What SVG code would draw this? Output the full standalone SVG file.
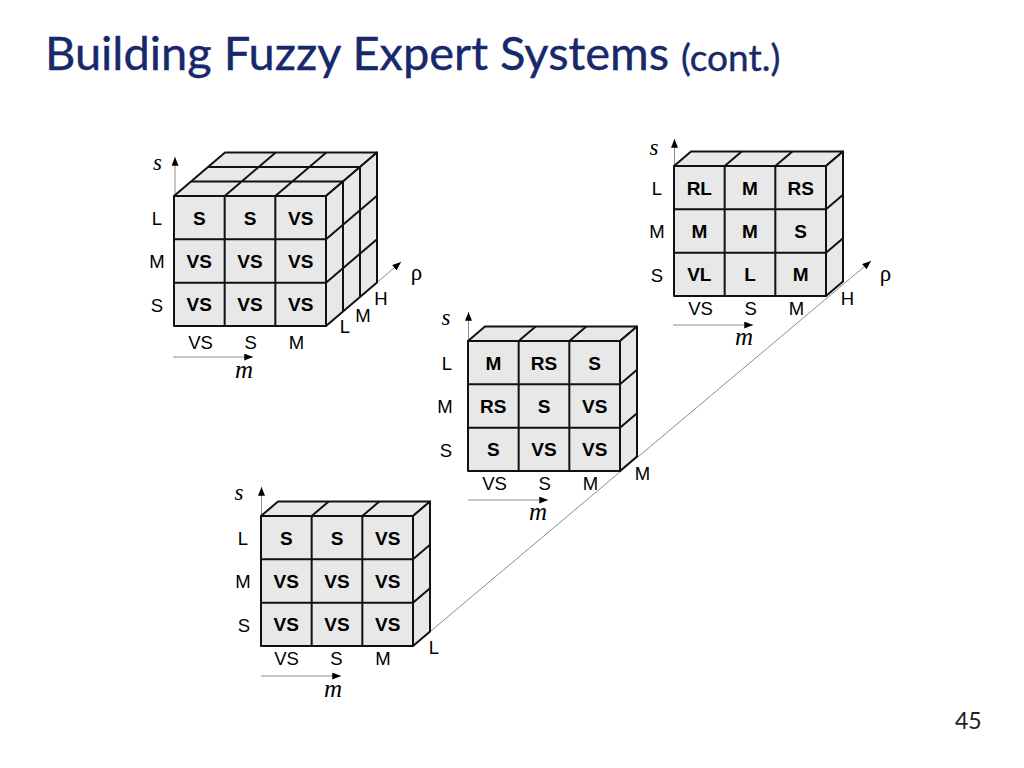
<svg xmlns="http://www.w3.org/2000/svg" width="1024" height="768" viewBox="0 0 1024 768">
<defs>
<marker id="arr" viewBox="0 0 10 8" markerWidth="9" markerHeight="7" markerUnits="userSpaceOnUse" refX="10" refY="4" orient="auto">
<path d="M0,0 L10,4 L0,8 z" fill="#000"/>
</marker>
</defs>
<style>
.face{fill:#e8e8e8;stroke:#111;stroke-width:2;stroke-linejoin:round}
.grid{stroke:#111;stroke-width:2;fill:none}
.cell{font-family:"Liberation Sans",Arial,sans-serif;font-weight:bold;font-size:19px;text-anchor:middle;fill:#000}
.lab{font-family:"Liberation Sans",Arial,sans-serif;font-size:18.5px;text-anchor:middle;fill:#000}
.ax{font-family:"Liberation Serif","Times New Roman",serif;font-style:italic;text-anchor:middle;fill:#000}
.rho{font-family:"Liberation Serif","Times New Roman",serif;font-size:23px;text-anchor:middle;fill:#000}
.axis{stroke:#8c8c8c;stroke-width:1;fill:none;marker-end:url(#arr)}
.title{font-family:Lato,"Open Sans",sans-serif;fill:#17296B;stroke:#17296B;stroke-width:0.4}
</style>
<rect width="1024" height="768" fill="#fff"/>
<text class="title" x="45" y="70" font-size="47">Building Fuzzy Expert Systems</text>
<text class="title" x="681" y="71" font-size="37">(cont.)</text>
<text x="955" y="729" font-family="Lato,'Open Sans',sans-serif" font-size="23" fill="#222">45</text>

<g id="connectors">
<line class="axis" x1="175" y1="196" x2="175" y2="157"/>
<line class="axis" x1="173" y1="357" x2="253" y2="357"/>
<line class="axis" x1="377" y1="282.5" x2="401" y2="262"/>
<line class="axis" x1="674.5" y1="166" x2="674.5" y2="139"/>
<line class="axis" x1="673" y1="325" x2="753" y2="325"/>
<line class="axis" x1="468.5" y1="341" x2="468.5" y2="312"/>
<line class="axis" x1="468" y1="500" x2="548" y2="500"/>
<line class="axis" x1="261.5" y1="516" x2="261.5" y2="487"/>
<line class="axis" x1="261" y1="676" x2="341" y2="676"/>
<line class="axis" x1="413" y1="646" x2="871" y2="261"/>
</g>

<g id="cube-rho-all">
<polygon class="face" points="174,196 326,196 377,152.5 225,152.5"/>
<path class="grid" d="M224.67,196 L275.67,152.5 M275.33,196 L326.33,152.5 M191,181.5 L343,181.5 M208,167 L360,167"/>
<polygon class="face" points="326,196 377,152.5 377,282.5 326,326"/>
<path class="grid" d="M326,239.33 L377,195.83 M326,282.67 L377,239.17 M343,181.5 L343,311.5 M360,167 L360,297"/>
<rect class="face" x="174" y="196" width="152" height="130"/>
<path class="grid" d="M224.67,196 V326 M275.33,196 V326 M174,239.33 H326 M174,282.67 H326"/>
<text class="cell" x="199.3" y="224.5">S</text><text class="cell" x="250" y="224.5">S</text><text class="cell" x="300.7" y="224.5">VS</text>
<text class="cell" x="199.3" y="267.8">VS</text><text class="cell" x="250" y="267.8">VS</text><text class="cell" x="300.7" y="267.8">VS</text>
<text class="cell" x="199.3" y="311.2">VS</text><text class="cell" x="250" y="311.2">VS</text><text class="cell" x="300.7" y="311.2">VS</text>
<text class="lab" x="157" y="225">L</text><text class="lab" x="157" y="268.3">M</text><text class="lab" x="157" y="311.7">S</text>
<text class="lab" x="200.5" y="349">VS</text><text class="lab" x="250.7" y="349">S</text><text class="lab" x="296.5" y="349">M</text>
<text class="ax" x="157.5" y="170" font-size="23">s</text>
<text class="ax" x="244" y="378" font-size="25">m</text>
<text class="rho" x="416.5" y="280">ρ</text>
<text class="lab" x="345" y="333">L</text><text class="lab" x="363" y="322">M</text><text class="lab" x="381" y="305">H</text>
</g>

<g id="cube-rho-H">
<polygon class="face" points="674,166 826,166 843,151.5 691,151.5"/>
<path class="grid" d="M724.67,166 L741.67,151.5 M775.33,166 L792.33,151.5"/>
<polygon class="face" points="826,166 843,151.5 843,281.5 826,296"/>
<path class="grid" d="M826,209.33 L843,194.83 M826,252.67 L843,238.17"/>
<rect class="face" x="674" y="166" width="152" height="130"/>
<path class="grid" d="M724.67,166 V296 M775.33,166 V296 M674,209.33 H826 M674,252.67 H826"/>
<text class="cell" x="699.3" y="194.5">RL</text><text class="cell" x="750" y="194.5">M</text><text class="cell" x="800.7" y="194.5">RS</text>
<text class="cell" x="699.3" y="237.8">M</text><text class="cell" x="750" y="237.8">M</text><text class="cell" x="800.7" y="237.8">S</text>
<text class="cell" x="699.3" y="281.2">VL</text><text class="cell" x="750" y="281.2">L</text><text class="cell" x="800.7" y="281.2">M</text>
<text class="lab" x="657" y="195">L</text><text class="lab" x="657" y="238.3">M</text><text class="lab" x="657" y="281.7">S</text>
<text class="lab" x="700.5" y="315">VS</text><text class="lab" x="750.7" y="315">S</text><text class="lab" x="796.5" y="315">M</text>
<text class="ax" x="654" y="155" font-size="23">s</text>
<text class="ax" x="744" y="345" font-size="25">m</text>
<text class="rho" x="885.5" y="281">ρ</text>
<text class="lab" x="847.5" y="305">H</text>
</g>

<g id="cube-rho-M">
<polygon class="face" points="468,341 620,341 637,326.5 485,326.5"/>
<path class="grid" d="M518.67,341 L535.67,326.5 M569.33,341 L586.33,326.5"/>
<polygon class="face" points="620,341 637,326.5 637,456.5 620,471"/>
<path class="grid" d="M620,384.33 L637,369.83 M620,427.67 L637,413.17"/>
<rect class="face" x="468" y="341" width="152" height="130"/>
<path class="grid" d="M518.67,341 V471 M569.33,341 V471 M468,384.33 H620 M468,427.67 H620"/>
<text class="cell" x="493.3" y="369.5">M</text><text class="cell" x="544" y="369.5">RS</text><text class="cell" x="594.7" y="369.5">S</text>
<text class="cell" x="493.3" y="412.8">RS</text><text class="cell" x="544" y="412.8">S</text><text class="cell" x="594.7" y="412.8">VS</text>
<text class="cell" x="493.3" y="456.2">S</text><text class="cell" x="544" y="456.2">VS</text><text class="cell" x="594.7" y="456.2">VS</text>
<text class="lab" x="447" y="370">L</text><text class="lab" x="445" y="413.3">M</text><text class="lab" x="446" y="456.7">S</text>
<text class="lab" x="494.5" y="490">VS</text><text class="lab" x="544.7" y="490">S</text><text class="lab" x="590.5" y="490">M</text>
<text class="ax" x="446" y="325" font-size="23">s</text>
<text class="ax" x="538" y="520" font-size="25">m</text>
<text class="lab" x="642.5" y="480">M</text>
</g>

<g id="cube-rho-L">
<polygon class="face" points="261,516 413,516 430,501.5 278,501.5"/>
<path class="grid" d="M311.67,516 L328.67,501.5 M362.33,516 L379.33,501.5"/>
<polygon class="face" points="413,516 430,501.5 430,631.5 413,646"/>
<path class="grid" d="M413,559.33 L430,544.83 M413,602.67 L430,588.17"/>
<rect class="face" x="261" y="516" width="152" height="130"/>
<path class="grid" d="M311.67,516 V646 M362.33,516 V646 M261,559.33 H413 M261,602.67 H413"/>
<text class="cell" x="286.3" y="544.5">S</text><text class="cell" x="337" y="544.5">S</text><text class="cell" x="387.7" y="544.5">VS</text>
<text class="cell" x="286.3" y="587.8">VS</text><text class="cell" x="337" y="587.8">VS</text><text class="cell" x="387.7" y="587.8">VS</text>
<text class="cell" x="286.3" y="631.2">VS</text><text class="cell" x="337" y="631.2">VS</text><text class="cell" x="387.7" y="631.2">VS</text>
<text class="lab" x="243" y="545">L</text><text class="lab" x="243" y="588.3">M</text><text class="lab" x="244" y="631.7">S</text>
<text class="lab" x="286.5" y="665">VS</text><text class="lab" x="336.5" y="665">S</text><text class="lab" x="383" y="665">M</text>
<text class="ax" x="239" y="500" font-size="23">s</text>
<text class="ax" x="333" y="697" font-size="25">m</text>
<text class="lab" x="434" y="654">L</text>
</g>
</svg>
